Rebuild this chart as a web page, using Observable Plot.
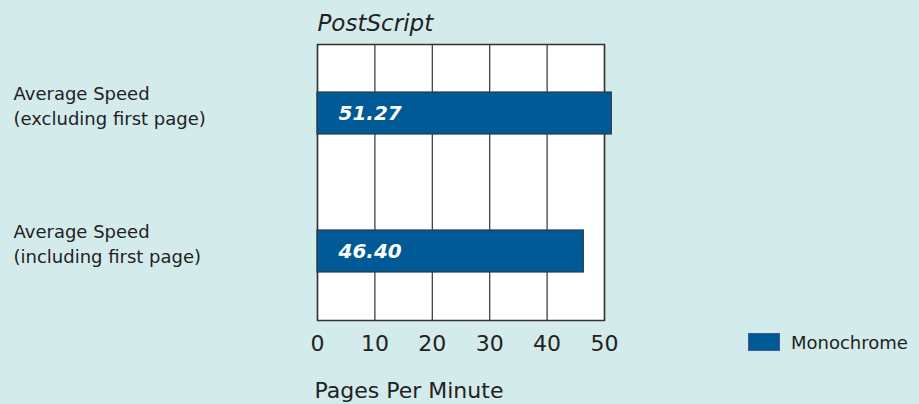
<!DOCTYPE html>
<html><head><meta charset="utf-8">
<script src="https://cdn.jsdelivr.net/npm/d3@7"></script>
<script src="https://cdn.jsdelivr.net/npm/@observablehq/plot@0.6"></script>
<style>
body{margin:0;background:#d4ebeb;}
#wrap{position:relative;width:919px;height:404px;font-family:"DejaVu Sans",sans-serif;}
#wrap svg{display:block;}
.legend{position:absolute;left:748px;top:333px;height:18px;display:flex;align-items:center;font-size:18px;color:#222;}
.sw{width:32px;height:18px;background:#005a96;border:1px solid #3a5a9a;margin-right:11px;box-sizing:border-box;}
</style></head><body><div id="wrap"></div>
<script>
const categories = ["Average Speed\n(excluding first page)", "Average Speed\n(including first page)"];
const values = [51.27, 46.40];
const valueLabels = ["51.27", "46.40"];
const xTicks = [0, 10, 20, 30, 40, 50];
const title = "PostScript";
const xLabel = "Pages Per Minute";
const seriesName = "Monochrome";

const data = categories.map((c, i) => ({category: c, value: values[i], label: valueLabels[i]}));

const chart = Plot.plot({
  width: 919, height: 404,
  marginLeft: 317, marginRight: 315, marginTop: 44, marginBottom: 84,
  style: {background: "transparent", fontFamily: "DejaVu Sans", color: "#222"},
  x: {domain: [0, 50], ticks: xTicks, label: null},
  y: {domain: categories, padding: 0, axis: null},
  marks: [
    Plot.frame({fill: "white", stroke: null}),
    Plot.ruleX(xTicks, {stroke: "#333", strokeWidth: 1.2}),
    Plot.frame({stroke: "#333", strokeWidth: 1.5}),
    Plot.barX(data, {x: "value", y: "category", fill: "#005a96", stroke: "#2b3a48", strokeWidth: 1.2, insetTop: 48, insetBottom: 48}),
    Plot.text(data, {x: 0, y: "category", text: "label", textAnchor: "start", dx: 21, fill: "white", fontSize: 20, fontWeight: "bold", fontStyle: "italic"}),
    Plot.text(data, {y: "category", frameAnchor: "left", text: "category", textAnchor: "start", dx: -304, dy: -9, fontSize: 18, lineHeight: 1.39, fill: "#222"}),
    Plot.axisX({ticks: xTicks, tickSize: 0, tickPadding: 15, fontSize: 22, label: null, fill: "#222"}),
    Plot.text([title], {frameAnchor: "top-left", text: d => d, textAnchor: "start", lineAnchor: "bottom", dy: -14, fontSize: 23, fontStyle: "italic", fill: "#222"}),
    Plot.text([xLabel], {frameAnchor: "bottom-left", text: d => d, textAnchor: "start", lineAnchor: "bottom", dx: -3, dy: 77, fontSize: 22, fill: "#222"})
  ]
});
const wrap = document.getElementById("wrap");
wrap.appendChild(chart);
const lg = document.createElement("div");
lg.className = "legend";
lg.innerHTML = `<div class="sw"></div><span></span>`;
lg.querySelector("span").textContent = seriesName;
wrap.appendChild(lg);
</script>
</body></html>
